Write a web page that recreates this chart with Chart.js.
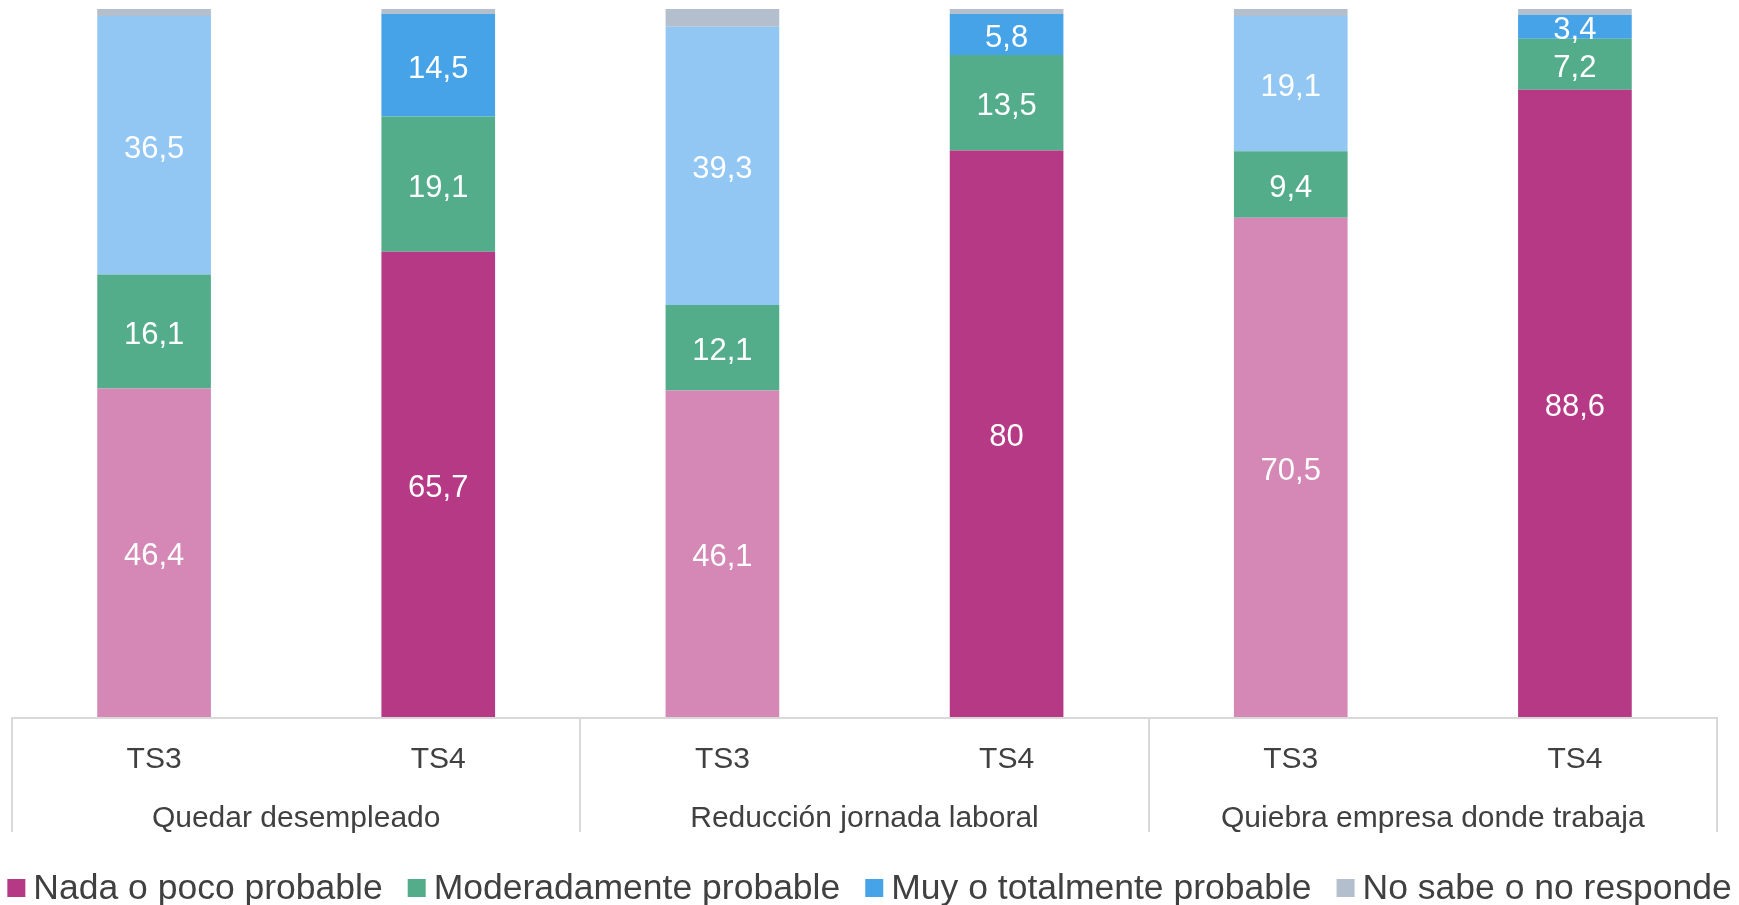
<!DOCTYPE html>
<html>
<head>
<meta charset="utf-8">
<script src="https://cdn.jsdelivr.net/npm/chart.js@4.4.1/dist/chart.umd.min.js"></script>
<style>
  html, body { margin: 0; padding: 0; background: #fff; }
  #wrap { width: 1739px; height: 905px; }
</style>
</head>
<body>
<div id="wrap"><canvas id="c"></canvas></div>
<script>
// categories
const periods = ['TS3', 'TS4', 'TS3', 'TS4', 'TS3', 'TS4'];
const groups = ['Quedar desempleado', 'Reducción jornada laboral', 'Quiebra empresa donde trabaja'];

// series values (%)
const nada = [46.4, 65.7, 46.1, 80, 70.5, 88.6];
const moderada = [16.1, 19.1, 12.1, 13.5, 9.4, 7.2];
const muy = [36.5, 14.5, 39.3, 5.8, 19.1, 3.4];
const noSabe = [1.0, 0.7, 2.5, 0.7, 1.0, 0.8];

const seriesNames = ['Nada o poco probable', 'Moderadamente probable', 'Muy o totalmente probable', 'No sabe o no responde'];

// TS3 bars are drawn lighter, TS4 darker
const nadaColors = ['#D587B5', '#B63985', '#D587B5', '#B63985', '#D587B5', '#B63985'];
const moderadaColors = '#53AD8A';
const muyColors = ['#92C6F3', '#47A3E8', '#92C6F3', '#47A3E8', '#92C6F3', '#47A3E8'];
const noSabeColors = '#B4BFCD';
const legendColors = ['#B63985', '#53AD8A', '#47A3E8', '#B4BFCD'];

const FONT = '"Liberation Sans", Arial, sans-serif';
const TEXT = '#404040';
const LINE = '#D9D9D9';

const fmt = v => String(v).replace('.', ',');

// white value labels centered in each segment (not for "No sabe")
const valueLabels = {
  id: 'valueLabels',
  afterDatasetsDraw(chart) {
    const ctx = chart.ctx;
    ctx.save();
    ctx.font = '31px ' + FONT;
    ctx.fillStyle = '#ffffff';
    ctx.textAlign = 'center';
    ctx.textBaseline = 'middle';
    chart.data.datasets.forEach((ds, di) => {
      if (di === 3) return;
      const meta = chart.getDatasetMeta(di);
      meta.data.forEach((bar, i) => {
        const y = (bar.y + bar.base) / 2;
        ctx.fillText(fmt(ds.data[i]), bar.x, y + 4);
      });
    });
    ctx.restore();
  }
};

// axis line + group separators spanning both label rows
const groupLines = {
  id: 'groupLines',
  afterDraw(chart) {
    const x = chart.scales.x;
    const x2 = chart.scales.x2;
    const ctx = chart.ctx;
    const top = chart.chartArea.bottom;
    const bottom = x2.bottom - 2;
    ctx.save();
    ctx.strokeStyle = LINE;
    ctx.lineWidth = 2;
    ctx.beginPath();
    ctx.moveTo(x.left, top + 1);
    ctx.lineTo(x.right, top + 1);
    const edges = [x.left];
    for (let g = 1; g < groups.length; g++) {
      edges.push((x.getPixelForValue(g * 2 - 1) + x.getPixelForValue(g * 2)) / 2);
    }
    edges.push(x.right);
    edges.forEach(px => {
      ctx.moveTo(Math.round(px), top);
      ctx.lineTo(Math.round(px), bottom);
    });
    ctx.stroke();
    ctx.restore();
  }
};

// bottom legend with square keys, tighter spacing than the built-in one
const LEGEND_SIZE = 35.5;
const bottomLegend = {
  id: 'bottomLegend',
  afterDraw(chart) {
    const ctx = chart.ctx;
    const box = 18, gap = 8, spacing = 25;
    ctx.save();
    ctx.font = LEGEND_SIZE + 'px ' + FONT;
    const widths = seriesNames.map(t => ctx.measureText(t).width);
    const total = widths.reduce((a, w) => a + w + box + gap, 0) + spacing * (seriesNames.length - 1);
    let px = (chart.width - total) / 2;
    const cy = chart.height - 18;
    ctx.textBaseline = 'middle';
    ctx.textAlign = 'left';
    seriesNames.forEach((name, i) => {
      ctx.fillStyle = legendColors[i];
      ctx.fillRect(px, cy - box / 2 + 1, box, box);
      ctx.fillStyle = TEXT;
      ctx.fillText(name, px + box + gap, cy + 2);
      px += box + gap + widths[i] + spacing;
    });
    ctx.restore();
  }
};

new Chart(document.getElementById('c'), {
  type: 'bar',
  data: {
    labels: periods,
    datasets: [
      { label: seriesNames[0], data: nada, backgroundColor: nadaColors },
      { label: seriesNames[1], data: moderada, backgroundColor: moderadaColors },
      { label: seriesNames[2], data: muy, backgroundColor: muyColors },
      { label: seriesNames[3], data: noSabe, backgroundColor: noSabeColors }
    ]
  },
  options: {
    responsive: true,
    maintainAspectRatio: false,
    animation: false,
    datasets: { bar: { categoryPercentage: 1, barPercentage: 0.4 } },
    layout: { padding: { left: 12, right: 22, top: 9, bottom: 71 } },
    scales: {
      x: {
        stacked: true,
        grid: { display: false, drawTicks: false },
        border: { display: false },
        ticks: { color: TEXT, font: { family: FONT, size: 30 }, padding: 25 },
        afterFit(scale) { scale.height = 60; }
      },
      x2: {
        type: 'category',
        position: 'bottom',
        labels: groups,
        offset: true,
        grid: { display: false, drawTicks: false },
        border: { display: false },
        ticks: { color: TEXT, font: { family: FONT, size: 30 }, padding: 24 },
        afterFit(scale) { scale.height = 57; }
      },
      y: {
        stacked: true,
        display: false,
        min: 0,
        max: 100
      }
    },
    plugins: {
      legend: { display: false },
      tooltip: { enabled: false }
    }
  },
  plugins: [valueLabels, groupLines, bottomLegend]
});
</script>
</body>
</html>
